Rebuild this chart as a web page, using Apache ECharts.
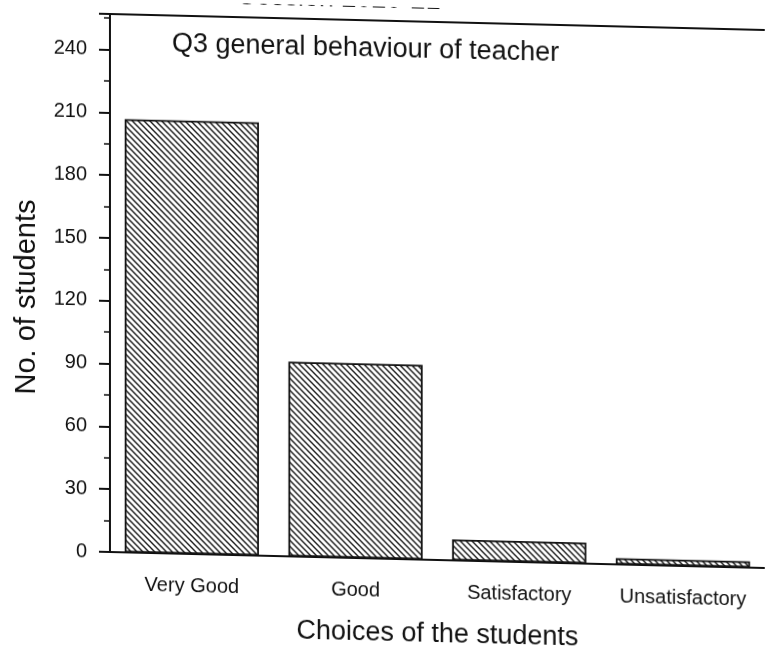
<!DOCTYPE html>
<html>
<head>
<meta charset="utf-8">
<script src="https://cdn.jsdelivr.net/npm/echarts@6/dist/echarts.min.js"></script>
<style>
  html, body { margin: 0; padding: 0; background: #ffffff; overflow: hidden; }
  #chart { width: 765px; height: 648px; transform: skewY(1.4deg); transform-origin: 110px 300px; }
</style>
</head>
<body>
<div id="chart"></div>
<script>
// Responses to Q3 (general behaviour of teacher), session 2020-21
const categories = ['Very Good', 'Good', 'Satisfactory', 'Unsatisfactory'];
const students = [207, 93, 10, 3];
const yTicks = [0, 30, 60, 90, 120, 150, 180, 210, 240];

// Diagonal hatch fill for the bars
function hatchPattern() {
  const s = 6;
  const c = document.createElement('canvas');
  c.width = s; c.height = s;
  const g = c.getContext('2d');
  g.fillStyle = '#ffffff';
  g.fillRect(0, 0, s, s);
  g.strokeStyle = '#1a1a1a';
  g.lineWidth = 1.4;
  g.beginPath();
  g.moveTo(-1, -1); g.lineTo(s + 1, s + 1);
  g.moveTo(-1, s - 1); g.lineTo(1, s + 1);
  g.moveTo(s - 1, -1); g.lineTo(s + 1, 1);
  g.stroke();
  return c;
}

const chart = echarts.init(document.getElementById('chart'));
const font = 'Liberation Sans, Arial, sans-serif';
const ink = '#111';

chart.setOption({
  animation: false,
  backgroundColor: '#ffffff',
  title: [
    {
      text: 'Q3 general behaviour of teacher',
      left: 167, top: 24,
      textStyle: { fontFamily: font, fontSize: 27, fontWeight: 'normal', color: ink }
    }
  ],
  graphic: [
    {
      type: 'text', x: 238, y: 7,
      style: { text: 'Session 2020-21', font: '27px ' + font, fill: ink, verticalAlign: 'bottom' }
    },
    {
      type: 'text', x: 27, y: 299, rotation: Math.PI / 2,
      style: { text: 'No. of students', font: '29px ' + font, fill: ink, align: 'center', verticalAlign: 'middle' }
    }
  ],
  grid: { left: 110, top: 14, width: 658, bottom: 96 },
  xAxis: [
    {
      type: 'category',
      data: categories,
      axisLine: { lineStyle: { color: ink, width: 2 } },
      axisTick: { alignWithLabel: true, length: 10, lineStyle: { color: ink, width: 2 } },
      axisLabel: { fontFamily: font, fontSize: 20, color: ink, margin: 22, interval: 0 },
      name: 'Choices of the students',
      nameLocation: 'middle',
      nameGap: 61,
      nameTextStyle: { fontFamily: font, fontSize: 27, color: ink }
    },
    {
      type: 'category',
      data: categories,
      position: 'bottom',
      axisLine: { show: false },
      axisTick: { length: 6, lineStyle: { color: ink, width: 2 } },
      axisLabel: { show: false }
    },
    {
      // frame line along the top of the plot
      type: 'category',
      data: categories,
      position: 'top',
      axisLine: { show: true, lineStyle: { color: ink, width: 2 } },
      axisTick: { show: false },
      axisLabel: { show: false }
    }
  ],
  yAxis: {
    type: 'value',
    min: 0, max: 257, interval: 30,
    splitLine: { show: false },
    axisLine: { show: true, lineStyle: { color: ink, width: 2 } },
    axisTick: { show: true, length: 11, lineStyle: { color: ink, width: 2 } },
    minorTick: { show: true, splitNumber: 2, length: 6, lineStyle: { color: ink, width: 1.5 } },
    axisLabel: {
      fontFamily: font, fontSize: 20, color: ink, margin: 23,
      formatter: v => (yTicks.indexOf(v) >= 0 ? String(v) : '')
    }
  },
  series: [{
    type: 'bar',
    data: students,
    barWidth: '82%',
    itemStyle: {
      color: { image: hatchPattern(), repeat: 'repeat' },
      borderColor: ink,
      borderWidth: 1.8
    }
  }]
});
</script>
</body>
</html>
